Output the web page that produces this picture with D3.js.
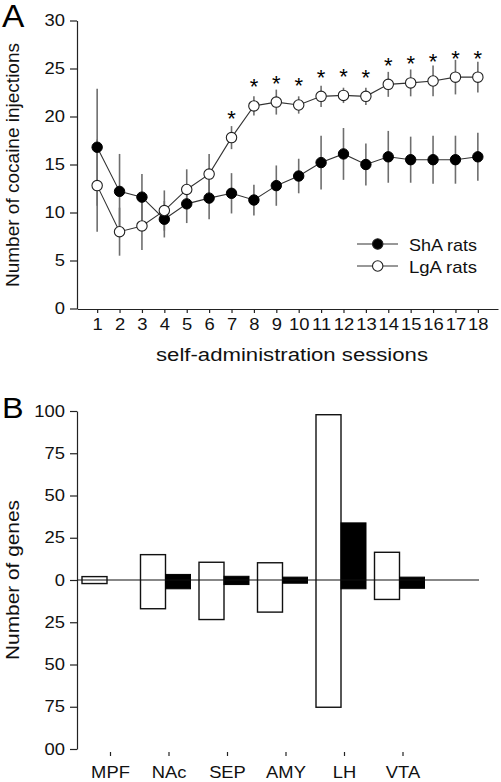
<!DOCTYPE html>
<html>
<head>
<meta charset="utf-8">
<script src="https://cdn.jsdelivr.net/npm/d3@7"></script>
<style>
  html, body { margin: 0; padding: 0; background: #fff; }
  svg { display: block; font-family: "Liberation Sans", Arial, Helvetica, sans-serif; }
</style>
</head>
<body>
<svg id="chart" width="501" height="782"></svg>
<script>
// ---------- Panel A data ----------
const sessions = [1,2,3,4,5,6,7,8,9,10,11,12,13,14,15,16,17,18];
const shaMean = [16.8,12.2,11.6,9.3,10.9,11.5,12.0,11.3,12.8,13.8,15.2,16.1,15.0,15.8,15.5,15.5,15.5,15.8];
const shaErr  = [6.1,3.9,2.4,1.9,2.0,2.2,2.1,1.6,2.1,1.8,2.8,2.7,2.2,2.7,2.4,2.5,2.5,2.5];
const lgaMean = [12.8,8.0,8.6,10.2,12.4,14.0,17.8,21.1,21.5,21.2,22.1,22.2,22.1,23.35,23.5,23.7,24.1,24.1];
const lgaErr  = [4.8,2.5,2.5,2.1,2.1,2.1,1.2,1.0,1.3,0.9,1.1,0.8,0.9,1.3,1.4,1.6,1.8,1.6];
const starSessions = [7,8,9,10,11,12,13,14,15,16,17,18];
const yTicksA = [0,5,10,15,20,25,30];
const seriesNames = ["ShA rats","LgA rats"];

// ---------- Panel B data ----------
const regions = ["MPF","NAc","SEP","AMY","LH","VTA"];
const openUp     = [2.0, 15.0, 10.5, 10.2, 97.8, 16.4];
const openDown   = [2.1, 17.0, 23.4, 19.0, 75.3, 11.5];
const filledUp   = [0, 3.3, 2.2, 1.7, 33.8, 1.7];
const filledDown = [0, 5.2, 2.7, 1.9, 5.2, 4.9];
const yTicksB = [100,75,50,25,0,-25,-50,-75,-100];
const yTickLabelsB = ["100","75","50","25","0","25","50","75","00"];

const svg = d3.select("#chart");
const axisColor = "#222";

// horizontal stretch of a text element about its anchor x
function stretchText(sel, k) {
  sel.each(function() {
    const t = d3.select(this);
    const x = +(t.attr("x") || 0);
    t.attr("transform", `translate(${x},0) scale(${k},1) translate(${-x},0)`);
  });
}

// ================= PANEL A =================
const xA = d3.scaleLinear().domain([0.1, 18.9]).range([77, 498]);
const yA = d3.scaleLinear().domain([0, 30]).range([308.5, 20.5]);

const gA = svg.append("g");

const yAxisA = gA.append("g").attr("transform", "translate(77,0)")
  .call(d3.axisLeft(yA).tickValues(yTicksA).tickSize(7).tickPadding(5).tickSizeOuter(0));
const xAxisA = gA.append("g").attr("transform", "translate(0,309)")
  .call(d3.axisBottom(xA).tickValues(sessions).tickFormat(d3.format("d")).tickSize(4).tickPadding(5.5).tickSizeOuter(0));

[yAxisA, xAxisA].forEach(ax => {
  ax.select(".domain").attr("stroke", axisColor).attr("stroke-width", 1.2);
  ax.selectAll(".tick line").attr("stroke", axisColor).attr("stroke-width", 1.2);
  ax.selectAll(".tick text").attr("font-size", 16).attr("fill", "#111")
    .attr("font-family", "Liberation Sans, Arial, sans-serif")
    .call(stretchText, 1.15);
});

const shaData = sessions.map((s, i) => ({s, m: shaMean[i], e: shaErr[i]}));
const lgaData = sessions.map((s, i) => ({s, m: lgaMean[i], e: lgaErr[i]}));

// error bars
[shaData, lgaData].forEach(data => {
  gA.append("g").selectAll("line").data(data).join("line")
    .attr("x1", d => xA(d.s)).attr("x2", d => xA(d.s))
    .attr("y1", d => yA(d.m - d.e)).attr("y2", d => yA(d.m + d.e))
    .attr("stroke", "#6e6e6e").attr("stroke-width", 1.6);
});

const lineGen = d3.line().x(d => xA(d.s)).y(d => yA(d.m));
[shaData, lgaData].forEach(data => {
  gA.append("path").datum(data).attr("d", lineGen)
    .attr("fill", "none").attr("stroke", "#333").attr("stroke-width", 1.1);
});

gA.append("g").selectAll("circle").data(shaData).join("circle")
  .attr("cx", d => xA(d.s)).attr("cy", d => yA(d.m)).attr("r", 5.2)
  .attr("fill", "#000").attr("stroke", "#000").attr("stroke-width", 1);
gA.append("g").selectAll("circle").data(lgaData).join("circle")
  .attr("cx", d => xA(d.s)).attr("cy", d => yA(d.m)).attr("r", 5.2)
  .attr("fill", "#fff").attr("stroke", "#222").attr("stroke-width", 1.1);

// significance stars
gA.append("g").selectAll("text").data(lgaData.filter(d => starSessions.includes(d.s))).join("text")
  .attr("x", d => xA(d.s)).attr("y", d => yA(d.m) - 24 + 12.5)
  .attr("text-anchor", "middle").attr("font-size", 22).attr("fill", "#000")
  .text("*");

// legend
const legend = gA.append("g");
const legY = [244, 266];
seriesNames.forEach((name, i) => {
  const y = legY[i];
  legend.append("line").attr("x1", 357).attr("x2", 398).attr("y1", y).attr("y2", y)
    .attr("stroke", "#333").attr("stroke-width", 1.1);
  legend.append("circle").attr("cx", 377.7).attr("cy", y).attr("r", 5.2)
    .attr("fill", i === 0 ? "#000" : "#fff").attr("stroke", "#222").attr("stroke-width", 1.1);
  legend.append("text").attr("x", 409).attr("y", y + 6.5)
    .attr("font-size", 17).attr("fill", "#111")
    .attr("textLength", 68).attr("lengthAdjust", "spacingAndGlyphs")
    .text(name);
});

// axis titles
gA.append("text").attr("x", 292).attr("y", 361).attr("text-anchor", "middle")
  .attr("font-size", 17.5).attr("fill", "#111")
  .attr("textLength", 272).attr("lengthAdjust", "spacingAndGlyphs")
  .text("self-administration sessions");
gA.append("text").attr("transform", "translate(19,165) rotate(-90)").attr("text-anchor", "middle")
  .attr("font-size", 18).attr("fill", "#111")
  .attr("textLength", 244).attr("lengthAdjust", "spacingAndGlyphs")
  .text("Number of cocaine injections");
gA.append("text").attr("x", 2).attr("y", 27).attr("font-size", 31).attr("fill", "#000")
  .text("A").call(stretchText, 1.08);

// ================= PANEL B =================
const xB = d3.scalePoint().domain(regions).range([110, 402.5]);
const yB = d3.scaleLinear().domain([-100, 100]).range([749, 411]);
const openOffset = -28, filledOffset = -3, barW = 25;

const gB = svg.append("g");

const yAxisB = gB.append("g").attr("transform", "translate(77,0)")
  .call(d3.axisLeft(yB).tickValues(yTicksB).tickFormat((d, i) => yTickLabelsB[i])
    .tickSize(7).tickPadding(5).tickSizeOuter(0));
yAxisB.select(".domain").attr("stroke", axisColor).attr("stroke-width", 1.2);
yAxisB.selectAll(".tick line").attr("stroke", axisColor).attr("stroke-width", 1.2);
yAxisB.selectAll(".tick text").attr("font-size", 16).attr("fill", "#111")
  .attr("font-family", "Liberation Sans, Arial, sans-serif")
  .call(stretchText, 1.15);

const xAxisB = gB.append("g").attr("transform", "translate(0,752)")
  .call(d3.axisBottom(xB).tickSize(4).tickPadding(10).tickSizeOuter(0));
xAxisB.select(".domain").remove();
xAxisB.selectAll(".tick line").attr("stroke", axisColor).attr("stroke-width", 1.2);
xAxisB.selectAll(".tick text").attr("font-size", 17).attr("fill", "#111")
  .attr("font-family", "Liberation Sans, Arial, sans-serif")
  .call(stretchText, 1.08);

const barData = regions.map((r, i) => ({r, ou: openUp[i], od: openDown[i], fu: filledUp[i], fd: filledDown[i]}));

gB.append("g").selectAll("rect").data(barData).join("rect")
  .attr("x", d => xB(d.r) + openOffset).attr("width", barW)
  .attr("y", d => yB(d.ou)).attr("height", d => yB(-d.od) - yB(d.ou))
  .attr("fill", "#fff").attr("stroke", "#111").attr("stroke-width", 1.4);

gB.append("g").selectAll("rect").data(barData.filter(d => d.fu + d.fd > 0)).join("rect")
  .attr("x", d => xB(d.r) + filledOffset).attr("width", barW)
  .attr("y", d => yB(d.fu)).attr("height", d => yB(-d.fd) - yB(d.fu))
  .attr("fill", "#000").attr("stroke", "#000").attr("stroke-width", 1);

gB.append("line").attr("x1", 77).attr("x2", 479).attr("y1", yB(0)).attr("y2", yB(0))
  .attr("stroke", "#111").attr("stroke-width", 1.2);

gB.append("text").attr("transform", "translate(19,580) rotate(-90)").attr("text-anchor", "middle")
  .attr("font-size", 18).attr("fill", "#111")
  .attr("textLength", 160).attr("lengthAdjust", "spacingAndGlyphs")
  .text("Number of genes");
gB.append("text").attr("x", 2).attr("y", 418).attr("font-size", 30).attr("fill", "#000")
  .text("B").call(stretchText, 1.08);
</script>
</body>
</html>
